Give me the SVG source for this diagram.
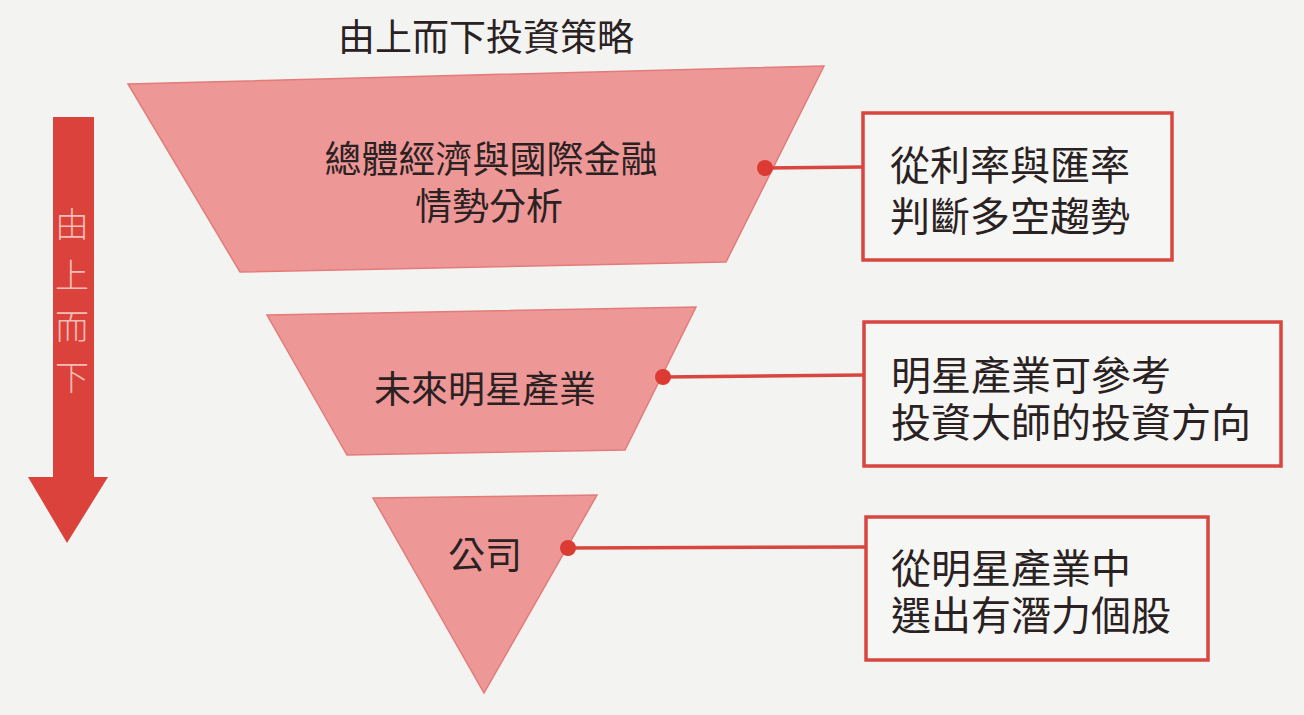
<svg xmlns="http://www.w3.org/2000/svg" width="1304" height="715" viewBox="0 0 1304 715">
<style>
.bg{fill:#f3f4f2}
.tier{fill:#ee9797;stroke:#e27c7a;stroke-width:1.5}
.box{fill:#f6f6f4;stroke:#d8463f;stroke-width:3.5}
.link{stroke:#d8463f;stroke-width:3.5;fill:none}
.dot{fill:#dc3b34}
.t{font-family:"Noto Sans CJK TC","Noto Sans CJK SC",sans-serif;fill:#2a2222;dominant-baseline:central}
.arrow{fill:#db423b}
.at{font-family:"Noto Sans CJK TC","Noto Sans CJK SC",sans-serif;fill:#f6bcb6;font-size:34px;text-anchor:middle;dominant-baseline:central;font-weight:300}
</style>
<rect class="bg" x="0" y="0" width="1304" height="715"/>
<text class="t" x="486" y="35" font-size="37" text-anchor="middle">由上而下投資策略</text>
<g id="arrow">
<polygon class="arrow" points="53,117 94,117 94,477 108,477 67,543 28,477 53,477"/>
<text class="at" x="72" y="222">由</text>
<text class="at" x="72" y="273">上</text>
<text class="at" x="72" y="324">而</text>
<text class="at" x="72" y="375">下</text>
</g>
<g id="tier1">
<polygon class="tier" points="128,84 824,66 726,262 240,272"/>
<text class="t" x="491" y="157" font-size="37" text-anchor="middle">總體經濟與國際金融</text>
<text class="t" x="489" y="204" font-size="37" text-anchor="middle">情勢分析</text>
</g>
<g id="tier2">
<polygon class="tier" points="267,315 696,307 625,450 347,455"/>
<text class="t" x="485" y="387" font-size="37" text-anchor="middle">未來明星產業</text>
</g>
<g id="tier3">
<polygon class="tier" points="373,498 597,495 484,693"/>
<text class="t" x="485" y="553" font-size="37" text-anchor="middle">公司</text>
</g>
<g id="box1">
<rect class="box" x="863" y="113" width="309" height="147"/>
<text class="t" x="890" y="163" font-size="40">從利率與匯率</text>
<text class="t" x="890" y="214" font-size="40">判斷多空趨勢</text>
</g>
<g id="box2">
<rect class="box" x="864" y="322" width="417" height="144"/>
<text class="t" x="891" y="373" font-size="40">明星產業可參考</text>
<text class="t" x="891" y="420" font-size="40">投資大師的投資方向</text>
</g>
<g id="box3">
<rect class="box" x="866" y="517" width="342" height="143"/>
<text class="t" x="891" y="566" font-size="40">從明星產業中</text>
<text class="t" x="891" y="613" font-size="40">選出有潛力個股</text>
</g>
<g id="connectors">
<line class="link" x1="765" y1="168" x2="863" y2="167"/>
<line class="link" x1="663" y1="377" x2="864" y2="375"/>
<line class="link" x1="568" y1="548" x2="866" y2="547"/>
<circle class="dot" cx="765" cy="168" r="8"/>
<circle class="dot" cx="663" cy="377" r="8"/>
<circle class="dot" cx="568" cy="548" r="8"/>
</g>
</svg>
